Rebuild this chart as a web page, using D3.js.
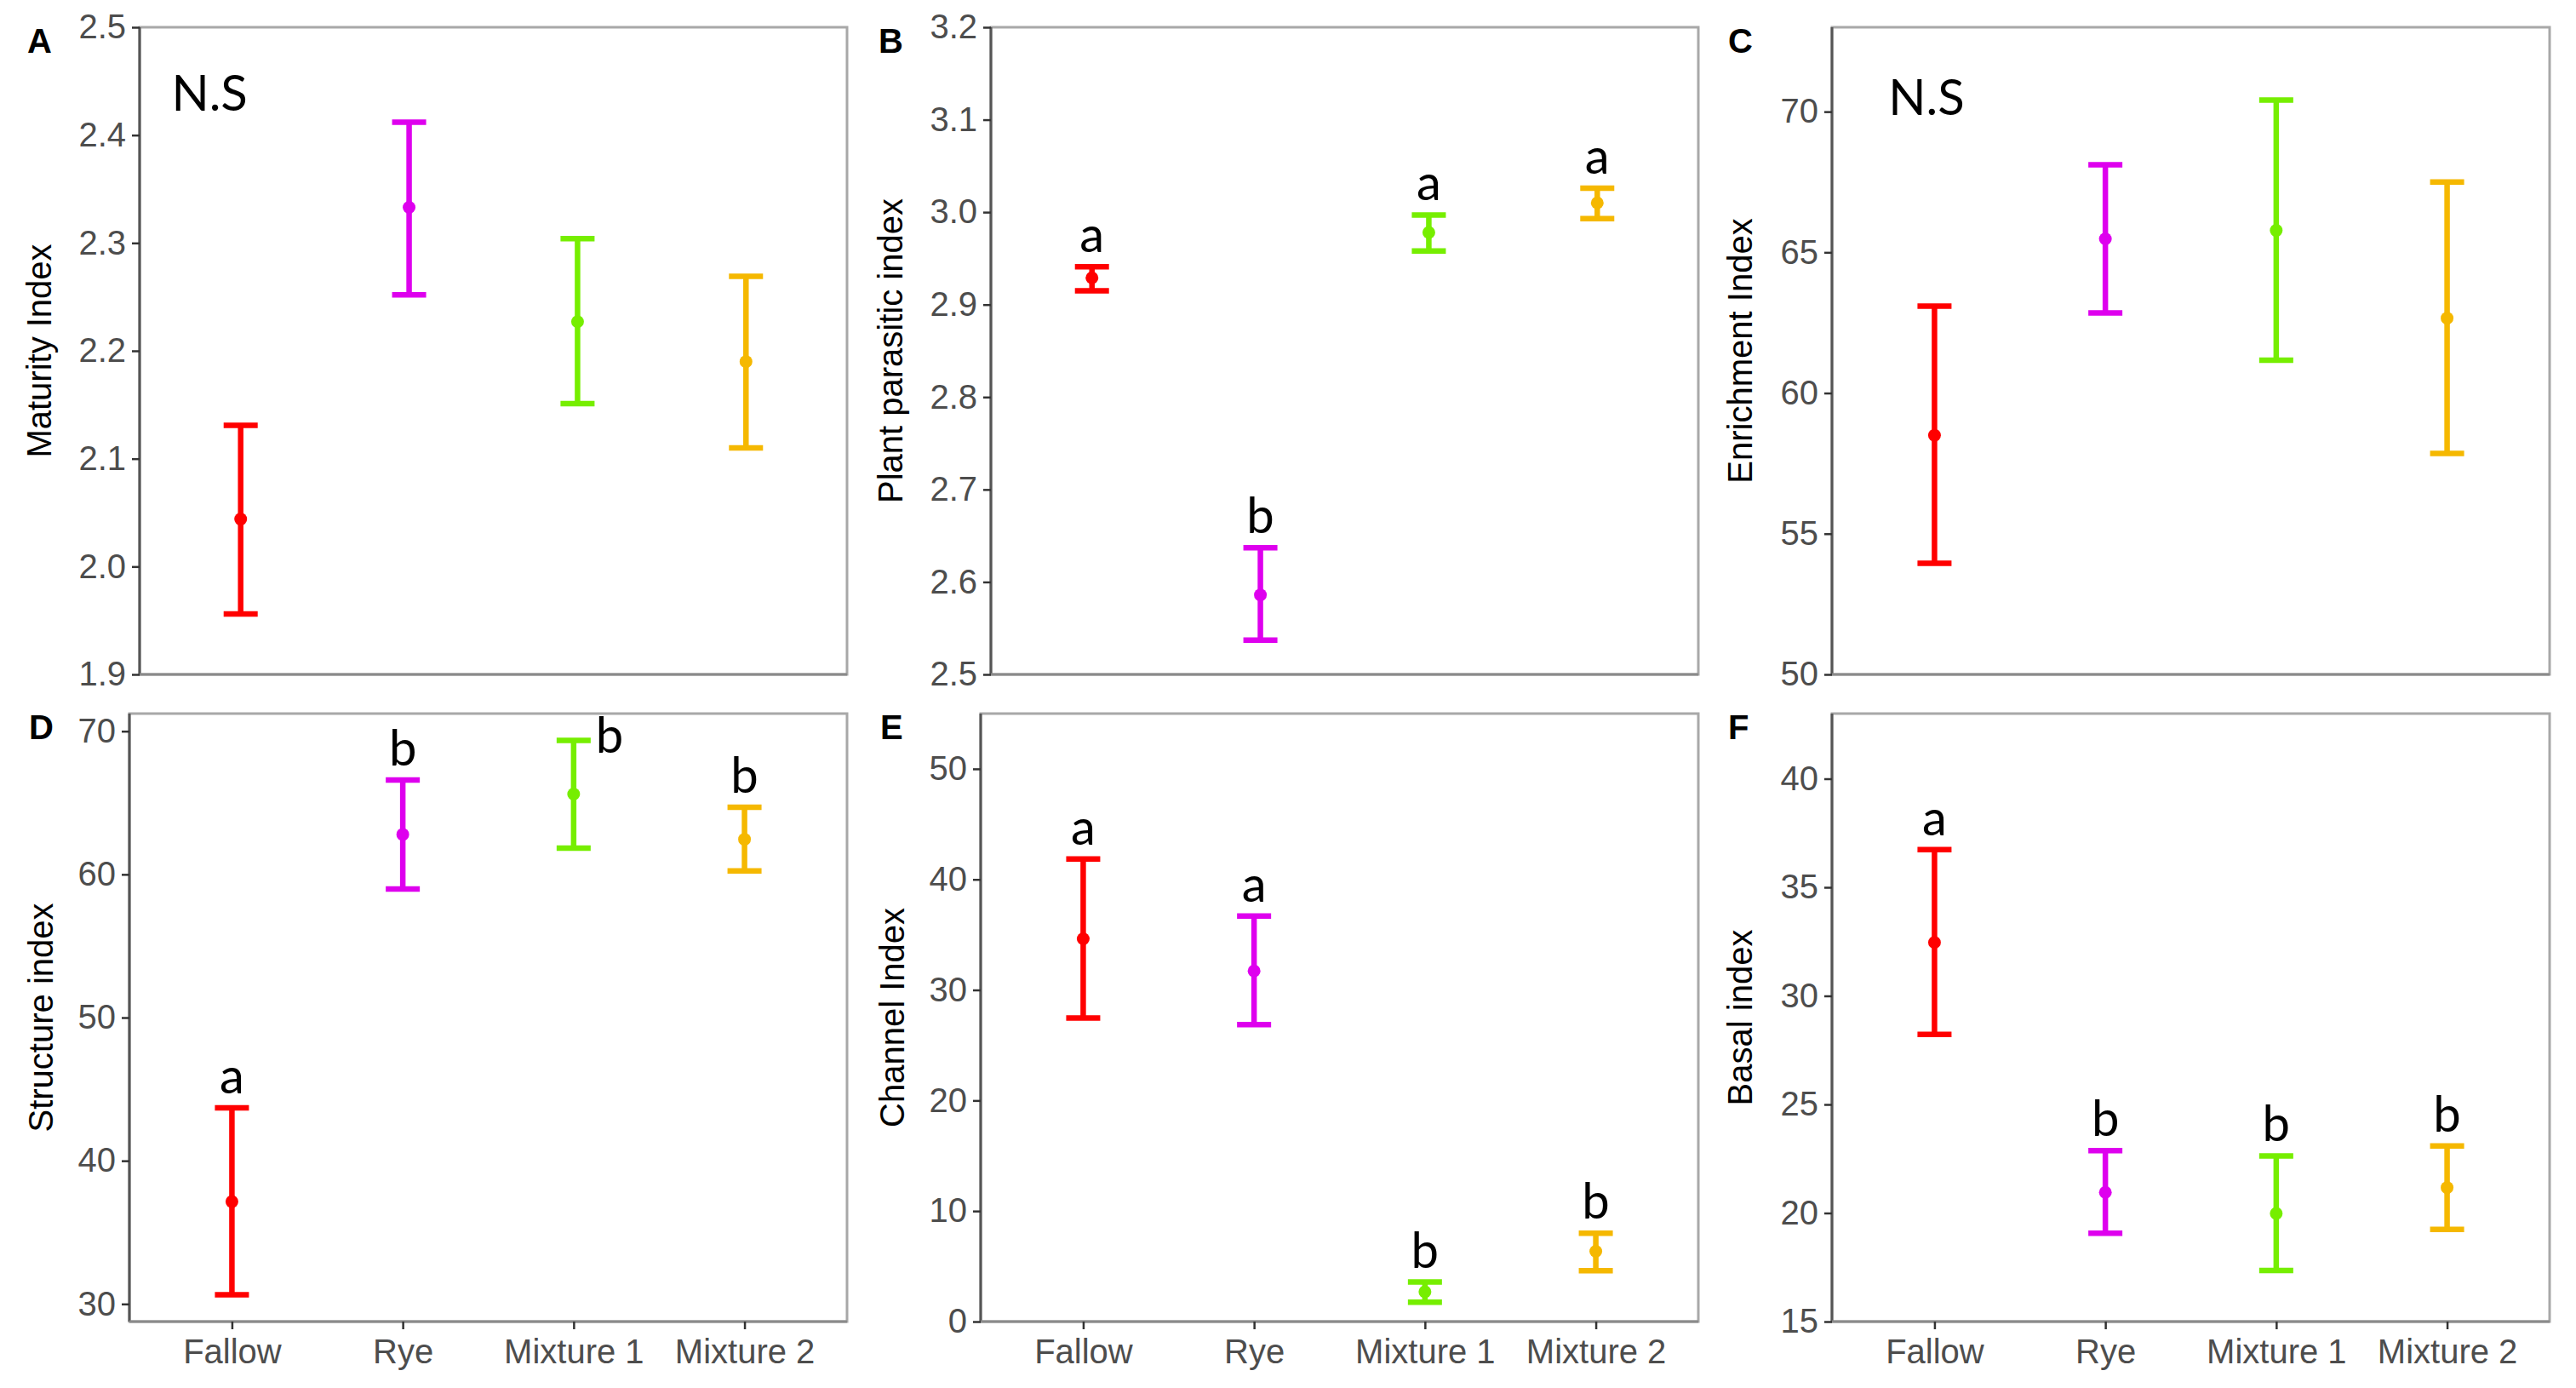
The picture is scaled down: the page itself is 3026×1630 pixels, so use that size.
<!DOCTYPE html>
<html>
<head>
<meta charset="utf-8">
<script src="https://cdn.jsdelivr.net/npm/d3@7/dist/d3.min.js"></script>
<style>
  body { margin: 0; background: #fff; }
  svg { display: block; }
</style>
</head>
<body>
<div id="chart"></div>
<script>
const width = 3026;
const height = 1630;

const categories = ["Fallow", "Rye", "Mixture 1", "Mixture 2"];
const colors = ["#ff0000", "#de00ee", "#76ee00", "#f5b800"];

// mean, lower, upper per panel
const maturityMean = [2.044, 2.333, 2.227, 2.190];
const maturityLow = [1.956, 2.252, 2.151, 2.110];
const maturityHigh = [2.131, 2.412, 2.304, 2.269];

const parasiticMean = [2.929, 2.586, 2.978, 3.010];
const parasiticLow = [2.915, 2.537, 2.958, 2.993];
const parasiticHigh = [2.941, 2.637, 2.997, 3.026];
const parasiticLetters = ["a", "b", "a", "a"];

const enrichMean = [58.50, 65.48, 65.78, 62.66];
const enrichLow = [53.95, 62.85, 61.17, 57.85];
const enrichHigh = [63.09, 68.11, 70.41, 67.50];

const structMean = [37.15, 62.79, 65.61, 62.45];
const structLow = [30.64, 58.98, 61.83, 60.24];
const structHigh = [43.69, 66.59, 69.36, 64.69];
const structLetters = ["a", "b", "b", "b"];

const channelMean = [34.62, 31.72, 2.70, 6.36];
const channelLow = [27.46, 26.87, 1.75, 4.61];
const channelHigh = [41.85, 36.69, 3.58, 7.99];
const channelLetters = ["a", "a", "b", "b"];

const basalMean = [32.46, 20.95, 19.98, 21.17];
const basalLow = [28.23, 19.07, 17.35, 19.25];
const basalHigh = [36.74, 22.87, 22.63, 23.09];
const basalLetters = ["a", "b", "b", "b"];

const maturityTicks = [1.9, 2.0, 2.1, 2.2, 2.3, 2.4, 2.5];
const parasiticTicks = [2.5, 2.6, 2.7, 2.8, 2.9, 3.0, 3.1, 3.2];
const enrichTicks = [50, 55, 60, 65, 70];
const structTicks = [30, 40, 50, 60, 70];
const channelTicks = [0, 10, 20, 30, 40, 50];
const basalTicks = [15, 20, 25, 30, 35, 40];

const panels = [
  { tag: "A", title: "Maturity Index", mean: maturityMean, low: maturityLow, high: maturityHigh,
    ticks: maturityTicks, fmt: ".1f", domain: [1.9, 2.5], ns: [0.815, 2.4226],
    box: [164, 995, 32, 792], titleX: 60, showX: false },
  { tag: "B", title: "Plant parasitic index", mean: parasiticMean, low: parasiticLow, high: parasiticHigh,
    ticks: parasiticTicks, fmt: ".1f", domain: [2.5, 3.2], letters: parasiticLetters,
    box: [1164, 1995, 32, 792], titleX: 1060, showX: false },
  { tag: "C", title: "Enrichment Index", mean: enrichMean, low: enrichLow, high: enrichHigh,
    ticks: enrichTicks, fmt: "d", domain: [50, 73], ns: [0.953, 69.88],
    box: [2152, 2995, 32, 792], titleX: 2058, showX: false },
  { tag: "D", title: "Structure index", mean: structMean, low: structLow, high: structHigh,
    ticks: structTicks, fmt: "d", domain: [28.77, 71.23], letters: structLetters,
    box: [152, 995, 838, 1552], titleX: 62, showX: true },
  { tag: "E", title: "Channel Index", mean: channelMean, low: channelLow, high: channelHigh,
    ticks: channelTicks, fmt: "d", domain: [0, 55], letters: channelLetters,
    box: [1152, 1995, 838, 1552], titleX: 1062, showX: true },
  { tag: "F", title: "Basal index", mean: basalMean, low: basalLow, high: basalHigh,
    ticks: basalTicks, fmt: "d", domain: [15, 43], letters: basalLetters,
    box: [2152, 2995, 838, 1552], titleX: 2058, showX: true }
];

const svg = d3.select("#chart")
  .append("svg")
  .attr("width", width)
  .attr("height", height)
  .attr("viewBox", [0, 0, width, height])
  .style("font-family", "'Liberation Sans', Arial, sans-serif");

svg.append("rect").attr("width", width).attr("height", height).attr("fill", "#fff");

panels.forEach(function (p) {
  const [x0, x1, y0, y1] = p.box;
  const x = d3.scaleLinear().domain([0.4, 4.6]).range([x0, x1]);
  const y = d3.scaleLinear().domain(p.domain).range([y1, y0]);
  const g = svg.append("g");

  // panel border
  g.append("rect")
    .attr("x", x0).attr("y", y0)
    .attr("width", x1 - x0).attr("height", y1 - y0)
    .attr("fill", "none")
    .attr("stroke", "#a8a8a8")
    .attr("stroke-width", 3);

  // y axis
  const ya = g.append("g")
    .attr("transform", "translate(" + x0 + ",0)")
    .call(d3.axisLeft(y).tickValues(p.ticks).tickFormat(d3.format(p.fmt)).tickSize(9).tickPadding(7));
  ya.select(".domain").attr("stroke", "#555").attr("stroke-width", 3).attr("d", "M0," + y1 + "V" + y0);
  ya.selectAll(".tick line").attr("stroke", "#333").attr("stroke-width", 2.5);
  ya.selectAll(".tick text")
    .attr("fill", "#4d4d4d")
    .style("font-size", "40px")
    .style("font-family", "'Liberation Sans', Arial, sans-serif");

  // x axis
  const xa = g.append("g")
    .attr("transform", "translate(0," + y1 + ")")
    .call(d3.axisBottom(x).tickValues([1, 2, 3, 4])
      .tickFormat(function (d) { return p.showX ? categories[d - 1] : ""; })
      .tickSize(p.showX ? 9 : 0).tickPadding(12));
  xa.select(".domain").attr("stroke", "#8a8a8a").attr("stroke-width", 3).attr("d", "M" + x0 + ",0H" + x1);
  xa.selectAll(".tick line").attr("stroke", "#333").attr("stroke-width", 2.5);
  xa.selectAll(".tick text")
    .attr("fill", "#4d4d4d")
    .style("font-size", "40px")
    .style("font-family", "'Liberation Sans', Arial, sans-serif");

  // y title
  g.append("text")
    .attr("transform", "translate(" + p.titleX + "," + (y0 + y1) / 2 + ") rotate(-90)")
    .attr("text-anchor", "middle")
    .attr("fill", "#000")
    .style("font-size", "40px")
    .text(p.title);

  // panel tag
  g.append("text")
    .attr("x", p.titleX - 28)
    .attr("y", y0 + 30)
    .attr("fill", "#000")
    .style("font-size", "40px")
    .style("font-weight", "bold")
    .text(p.tag);

  const rows = categories.map(function (c, i) {
    return { i: i + 1, mean: p.mean[i], low: p.low[i], high: p.high[i], color: colors[i] };
  });

  // error bars
  const cap = 20;
  const bars = g.selectAll(".bar").data(rows).enter().append("g");
  bars.append("line")
    .attr("x1", d => x(d.i)).attr("x2", d => x(d.i))
    .attr("y1", d => y(d.low)).attr("y2", d => y(d.high))
    .attr("stroke", d => d.color).attr("stroke-width", 6.5);
  bars.append("line")
    .attr("x1", d => x(d.i) - cap).attr("x2", d => x(d.i) + cap)
    .attr("y1", d => y(d.high)).attr("y2", d => y(d.high))
    .attr("stroke", d => d.color).attr("stroke-width", 6.5);
  bars.append("line")
    .attr("x1", d => x(d.i) - cap).attr("x2", d => x(d.i) + cap)
    .attr("y1", d => y(d.low)).attr("y2", d => y(d.low))
    .attr("stroke", d => d.color).attr("stroke-width", 6.5);
  bars.append("circle")
    .attr("cx", d => x(d.i)).attr("cy", d => y(d.mean))
    .attr("r", 7.5)
    .attr("fill", d => d.color);

  // significance letters
  if (p.letters) {
    g.selectAll(".letter").data(rows).enter().append("text")
      .attr("x", function (d) {
        // Mixture 1 in panel D sits beside its bar
        return p.tag === "D" && d.i === 3 ? x(d.i + 0.21) : x(d.i);
      })
      .attr("y", function (d) {
        return p.tag === "D" && d.i === 3 ? y(d.high) + 15 : y(d.high) - 17;
      })
      .attr("text-anchor", "middle")
      .attr("fill", "#000")
      .style("font-family", "Lato, 'Open Sans', sans-serif")
      .style("font-size", "58px")
      .text((d, i) => p.letters[i]);
  }

  if (p.ns) {
    g.append("text")
      .attr("x", x(p.ns[0]))
      .attr("y", y(p.ns[1]))
      .attr("text-anchor", "middle")
      .attr("fill", "#000")
      .style("font-family", "Lato, 'Open Sans', sans-serif")
      .style("font-size", "58px")
      .text("N.S");
  }
});
</script>
</body>
</html>
